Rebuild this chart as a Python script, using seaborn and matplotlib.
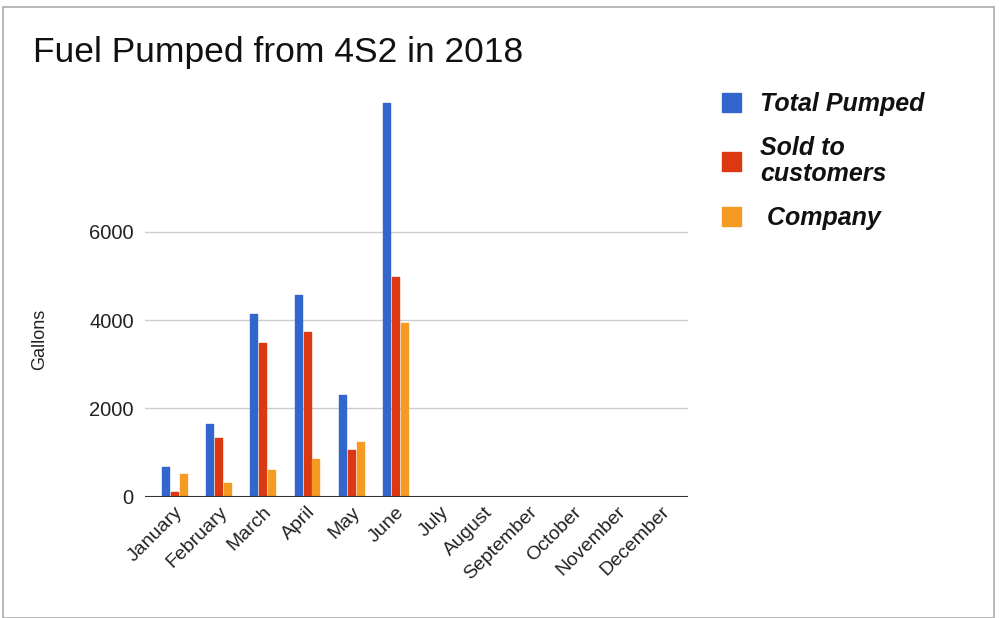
import matplotlib
matplotlib.use("Agg")
import matplotlib.pyplot as plt
import matplotlib.patches as mpatches
import seaborn as sns
import pandas as pd

months = ["January", "February", "March", "April", "May", "June",
          "July", "August", "September", "October", "November", "December"]
data_months = ["January", "February", "March", "April", "May", "June"]
total_pumped = [660, 1640, 4130, 4570, 2290, 8920]
sold_to_customers = [110, 1320, 3490, 3740, 1050, 4980]
company = [510, 310, 600, 840, 1240, 3930]
series_names = ["Total Pumped", "Sold to customers", "Company"]
legend_labels = ["Total Pumped", "Sold to\ncustomers", " Company"]
colors = ["#3366cc", "#dc3912", "#f59a22"]
yticks = [0, 2000, 4000, 6000]

rows = []
for name, vals in zip(series_names, [total_pumped, sold_to_customers, company]):
    for m, v in zip(data_months, vals):
        rows.append({"Month": m, "Series": name, "Gallons": v})
df = pd.DataFrame(rows)

sns.set_theme(style="white")
plt.rcParams["font.family"] = ["Liberation Sans", "DejaVu Sans"]

fig = plt.figure(figsize=(9.99, 6.18), dpi=100)
ax = fig.add_axes([0.1451, 0.1966, 0.5436, 0.6424])

sns.barplot(data=df, x="Month", y="Gallons", hue="Series", order=months,
            hue_order=series_names, palette=colors, width=0.6, gap=0.22,
            errorbar=None, ax=ax, legend=False, saturation=1)

for p in ax.patches:
    p.set_edgecolor(p.get_facecolor())
    p.set_linewidth(1.0)
    p.set_joinstyle("round")

ax.set_ylim(0, 9000)
ax.set_xlim(-0.66, 11.6)
ax.set_yticks(yticks)
ax.set_yticklabels([str(t) for t in yticks], fontsize=14.5, color="#222222")
for t in yticks[1:]:
    ax.axhline(t, color="#cccccc", lw=1, zorder=0)
ax.axhline(0, color="#333333", lw=1.5, zorder=5)
for s in ["left", "right", "top", "bottom"]:
    ax.spines[s].set_visible(False)
ax.tick_params(axis="both", length=0)
ax.tick_params(axis="y", pad=8)
ax.tick_params(axis="x", pad=5)
ax.set_xticks(range(len(months)))
ax.set_xticklabels(months, rotation=45, ha="right", rotation_mode="anchor",
                   fontsize=14, color="#222222")
ax.set_xlabel("")
ax.set_ylabel("Gallons", fontsize=13, color="#222222")
ax.yaxis.set_label_coords(-0.178, 0.397)

fig.text(0.033, 0.915, "Fuel Pumped from 4S2 in 2018", fontsize=25.5,
         color="#111111", va="center", ha="left")

handles = [mpatches.Patch(facecolor=c, edgecolor=c) for c in colors]
leg = fig.legend(handles, legend_labels, loc="upper left",
                 bbox_to_anchor=(0.7, 0.887), frameon=False,
                 prop={"family": "Liberation Sans", "weight": "bold",
                       "style": "italic", "size": 18},
                 handlelength=0.78, handleheight=0.78, handletextpad=0.75,
                 labelspacing=0.8)
for txt in leg.get_texts():
    txt.set_color("#111111")
    txt.set_linespacing(1.08)

# screenshot frame
fig.patches.append(mpatches.Rectangle((0.003, 0.0), 0.992, 0.988,
                   transform=fig.transFigure, fill=False,
                   edgecolor="#aaaaaa", lw=1.2))

fig.savefig("out.png", dpi=100)
